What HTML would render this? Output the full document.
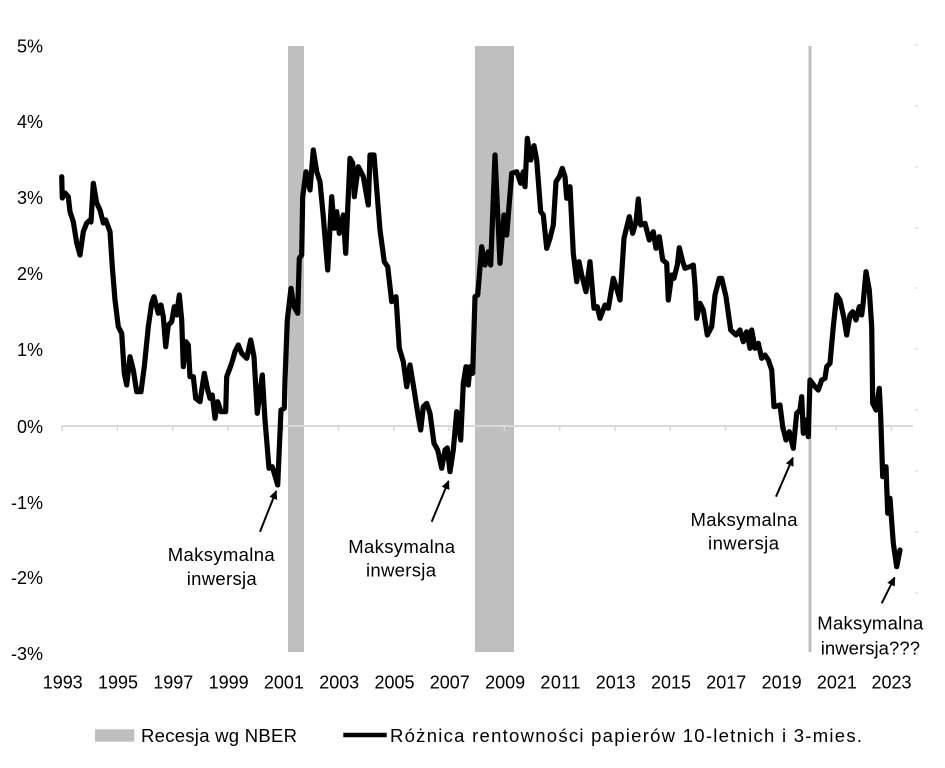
<!DOCTYPE html>
<html><head><meta charset="utf-8"><style>
html,body{margin:0;padding:0;background:#fff;}
svg{display:block;}
text{font-family:"Liberation Sans",Arial,sans-serif;fill:#000;}
</style></head><body>
<svg width="945" height="768" viewBox="0 0 945 768" xmlns="http://www.w3.org/2000/svg">
<defs>
<marker id="ah" markerWidth="10" markerHeight="10" refX="8" refY="5" orient="auto" markerUnits="userSpaceOnUse">
<path d="M0,0.8 L9,5 L0,9.2 Z" fill="#000"/>
</marker>
</defs>
<rect x="0" y="0" width="945" height="768" fill="#fff"/>
<!-- recession bands -->
<rect x="288" y="46" width="16" height="606" fill="#bfbfbf"/>
<rect x="475" y="46" width="39" height="606" fill="#bfbfbf"/>
<rect x="808.5" y="46" width="3" height="606" fill="#bfbfbf"/>
<!-- zero line -->
<line x1="62" y1="426" x2="913" y2="426" stroke="#d9d9d9" stroke-width="2"/>
<g stroke="#d9d9d9" stroke-width="1.5">
<line x1="62" y1="426" x2="62" y2="431"/>
<line x1="117.3" y1="426" x2="117.3" y2="431"/>
<line x1="172.6" y1="426" x2="172.6" y2="431"/>
<line x1="227.9" y1="426" x2="227.9" y2="431"/>
<line x1="283.2" y1="426" x2="283.2" y2="431"/>
<line x1="338.5" y1="426" x2="338.5" y2="431"/>
<line x1="393.8" y1="426" x2="393.8" y2="431"/>
<line x1="449.1" y1="426" x2="449.1" y2="431"/>
<line x1="504.4" y1="426" x2="504.4" y2="431"/>
<line x1="559.7" y1="426" x2="559.7" y2="431"/>
<line x1="615" y1="426" x2="615" y2="431"/>
<line x1="670.3" y1="426" x2="670.3" y2="431"/>
<line x1="725.6" y1="426" x2="725.6" y2="431"/>
<line x1="780.9" y1="426" x2="780.9" y2="431"/>
<line x1="836.2" y1="426" x2="836.2" y2="431"/>
<line x1="891.5" y1="426" x2="891.5" y2="431"/>
</g>
<!-- right faint ticks -->
<g stroke="#d0d0d0" stroke-width="1">
<line x1="915" y1="45" x2="918" y2="45"/>
<line x1="915" y1="106" x2="918" y2="106"/>
<line x1="915" y1="167" x2="918" y2="167"/>
<line x1="915" y1="228" x2="918" y2="228"/>
<line x1="915" y1="288" x2="918" y2="288"/>
<line x1="915" y1="349" x2="918" y2="349"/>
<line x1="915" y1="410" x2="918" y2="410"/>
<line x1="915" y1="471" x2="918" y2="471"/>
<line x1="915" y1="532" x2="918" y2="532"/>
<line x1="915" y1="593" x2="918" y2="593"/>
<line x1="915" y1="654" x2="918" y2="654"/>
</g>
<!-- y labels -->
<g font-size="18" text-anchor="end">
<text x="43" y="52.5">5%</text>
<text x="43" y="128">4%</text>
<text x="43" y="204">3%</text>
<text x="43" y="280">2%</text>
<text x="43" y="356">1%</text>
<text x="43" y="433">0%</text>
<text x="43" y="509">-1%</text>
<text x="43" y="584">-2%</text>
<text x="43" y="660">-3%</text>
</g>
<!-- x labels -->
<g font-size="18" text-anchor="middle">
<text x="62.7" y="688.5" textLength="40" lengthAdjust="spacing">1993</text>
<text x="118" y="688.5" textLength="40" lengthAdjust="spacing">1995</text>
<text x="173.3" y="688.5" textLength="40" lengthAdjust="spacing">1997</text>
<text x="228.6" y="688.5" textLength="40" lengthAdjust="spacing">1999</text>
<text x="283.9" y="688.5" textLength="40" lengthAdjust="spacing">2001</text>
<text x="339.2" y="688.5" textLength="40" lengthAdjust="spacing">2003</text>
<text x="394.5" y="688.5" textLength="40" lengthAdjust="spacing">2005</text>
<text x="449.8" y="688.5" textLength="40" lengthAdjust="spacing">2007</text>
<text x="505.1" y="688.5" textLength="40" lengthAdjust="spacing">2009</text>
<text x="560.4" y="688.5" textLength="40" lengthAdjust="spacing">2011</text>
<text x="615.7" y="688.5" textLength="40" lengthAdjust="spacing">2013</text>
<text x="671" y="688.5" textLength="40" lengthAdjust="spacing">2015</text>
<text x="726.3" y="688.5" textLength="40" lengthAdjust="spacing">2017</text>
<text x="781.6" y="688.5" textLength="40" lengthAdjust="spacing">2019</text>
<text x="836.9" y="688.5" textLength="40" lengthAdjust="spacing">2021</text>
<text x="891.5" y="688.5" textLength="40" lengthAdjust="spacing">2023</text>
</g>
<!-- series -->
<polyline fill="none" stroke="#000" stroke-width="5.2" stroke-linejoin="round" stroke-linecap="round" points="
61.7,176.7 62.3,198 65,193 68.3,196.7 70,211.7 73.3,221.7 76.7,243 80,255 83.3,231.7 86.7,223 90,220 91,222 93.3,183.3 96.7,203 100,210 103.3,223 105.7,220 110,231.7 112.3,266.7 115,300 118.3,326.7 121.7,333.3 124.3,373.3 126.7,385 130,356.7 133.3,370 136.7,391.7 141,391.7 144.3,366.7 148.3,326.7 151.7,303.3 154,296.7 158.3,313.3 161,305 163.3,316.7 165.7,346.7 168.3,325 171.7,321.7 174.3,306.7 176.7,315 179.3,295 181.7,320 183.3,366.7 186,341.7 188.3,345 190,376.7 193.3,376.7 195.7,398.3 200,401.7 204.3,373.3 207.7,390 210,398.3 212.3,395 215,418.3 217.7,401.7 221,411.7 225.7,411.7 226.7,376.7 231.7,363.3 235,351.7 238.3,345 241.7,353.3 246.7,358.3 250.7,340 254,356.7 257.3,413.3 262.3,375 265,420 269,468.3 272.3,466.7 277.7,485 281,410 284.3,408.3
285,380 287.3,320 291,288.3 294,306.7 297.7,313.3 299.3,258.3 301.7,255 302.7,196.7 306,171.7 310,190 313.3,150 316.7,171.7 320,181.7 323.3,216.7 327.7,270 331.7,196.7 334.3,228.3 336.7,211.7 339.3,233.3 343.3,215 345.7,253.3 350,158.3 352.7,163 354.3,196.7 358.3,166.7 363.3,176.7 368.3,205 370,155 374,155 380,230 384.3,261.7 387.7,266.7 391.7,301.7 396,296.7 399.3,348.3 403.3,361.7 406.7,386.7 410,365 413.3,385 418.3,416.7 420.7,430 423.3,406.7 426.7,403.3 430,413.3 434,443.3 437.7,450 441.7,468.3 445,450 447.3,448 450,471.7 453.3,450 456.7,411.7 460.7,440 463.3,383.3 466,366.7 468.3,385 470,366.7 472.7,373.3 475,296.7 477.7,295 481.7,246.7 485,265 488.3,251.7 490.7,265 495,155 500,263.3 504,215 506.7,235 511.7,173.3 516.7,171.7 520.7,183.3 523.3,171.7 525,186.7 527.3,138.3 530.7,160 534,145.7 536.7,160 540.7,211.7 543.3,215 546.7,248.3 550,238.3 553.3,225 556,181.7 559.3,176.7 562.3,168.3 565,176.7 566.7,198.3 570,186.7 573.3,253.3 576.7,281.7 579,261.7 581.7,275 586,291.7 590,261.7 594,308.3 597.3,306.7 600,318.3 605,305 608.3,308.3 613.3,278.3 616.7,288.3 620,300 624,238.3 629.3,216.7 632.7,233.3 636,221.7 638.3,199 640.7,225 645,223.3 649.3,240 653.3,231.7 656,248.3 659.3,236.7 662.7,260 666.7,263.3 668.3,300 671.7,275 674,278.3 677.3,265 679.3,247.7 682.7,261.7 685,268.3 690,266.7 693.3,265 695,285 696.7,318.3 700,303.3 703.3,310 707.3,335 711.7,326.7 715,295 719.3,278.3 721.7,278.3 726,296.7 730.7,330 736,335 740,330 743.3,341.7 746.7,331.7 750,348.3 751.7,330 755,348.3 758.3,343.3 761.7,358.3 765,355 768.3,360 771.7,370 774,406.7 780,405 782.7,426.7 786,440 789.3,431.7 793.3,448.3 796.7,413.3 800,410 801.7,396.7 803.3,433.3 806,420 808.3,436.7 810,380 815,386.7 818.3,390 821.7,380 825,378.3 826.7,366.7 830,363.3 833.3,326.7 836.7,295 840,300 844,318.3 846.7,335 850,315 852.7,311.7 856,320 859.3,306.7 861.7,315 863.3,301.7 866,271.7 869.3,290 871.7,326.7 872.7,403.3 876,410 879.3,388.3 880.7,416.7 882.7,476.7 886,466.7 887.7,513.3 890,498.3 893.3,543.3 896.7,566.7 900,550"/>
<!-- arrows -->
<g stroke="#000" stroke-width="2" marker-end="url(#ah)">
<line x1="260" y1="531.7" x2="276.2" y2="491"/>
<line x1="431.7" y1="521.7" x2="448.6" y2="481"/>
<line x1="776" y1="496.7" x2="792.9" y2="457.7"/>
<line x1="881.7" y1="603.3" x2="894.6" y2="577.5"/>
</g>
<!-- annotations -->
<g font-size="18.5" text-anchor="start">
<text x="167.7" y="560.8" textLength="107" lengthAdjust="spacing">Maksymalna</text>
<text x="186.7" y="584.8" textLength="70" lengthAdjust="spacing">inwersja</text>
<text x="348.3" y="552.8" textLength="106.7" lengthAdjust="spacing">Maksymalna</text>
<text x="366" y="576.5" textLength="70" lengthAdjust="spacing">inwersja</text>
<text x="690.5" y="526" textLength="107" lengthAdjust="spacing">Maksymalna</text>
<text x="708" y="549.7" textLength="71" lengthAdjust="spacing">inwersja</text>
<text x="817.3" y="629.5" textLength="106" lengthAdjust="spacing">Maksymalna</text>
<text x="820.7" y="654.5" textLength="99.3" lengthAdjust="spacing">inwersja???</text>
</g>
<!-- legend -->
<rect x="95" y="729.3" width="39.3" height="12.4" fill="#bfbfbf"/>
<text x="141" y="742" font-size="18.5" textLength="156" lengthAdjust="spacing">Recesja wg NBER</text>
<line x1="343.3" y1="735" x2="386.7" y2="735" stroke="#000" stroke-width="4.5"/>
<text x="390" y="742" font-size="18.5" textLength="472" lengthAdjust="spacing">Różnica rentowności papierów 10-letnich i 3-mies.</text>
</svg>
</body></html>
